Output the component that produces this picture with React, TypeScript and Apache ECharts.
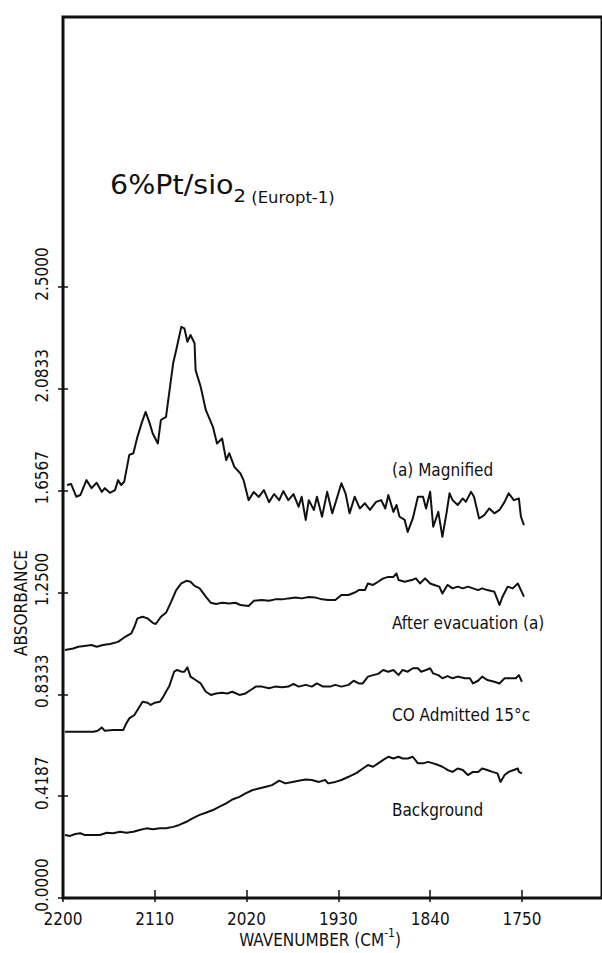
import React, { useEffect, useRef } from 'react';
import * as echarts from 'echarts';

const X_TICKS = [2200, 2110, 2020, 1930, 1840, 1750];
const Y_TICKS = [0, 2.5 / 6, 5 / 6, 1.25, 10 / 6, 12.5 / 6, 2.5];
const Y_TICK_LABELS = ['0.0000', '0.4187', '0.8333', '1.2500', '1.6567', '2.0833', '2.5000'];

const TITLE_MAIN = '6%Pt/sio';
const TITLE_SUB = '2';
const TITLE_TAIL = '(Europt-1)';
const X_NAME = 'WAVENUMBER (CM';
const Y_NAME = 'ABSORBANCE';

const SERIES_NAMES = ['(a) Magnified', 'After evacuation (a)', 'CO Admitted 15°c', 'Background'];

const MAGNIFIED: [number, number][] = [
  [2196, 1.69], [2192, 1.694], [2187, 1.642], [2183, 1.649], [2177, 1.71], [2172, 1.677],
  [2167, 1.699], [2162, 1.662], [2159, 1.677], [2154, 1.658], [2149, 1.669], [2146, 1.71],
  [2143, 1.69], [2140, 1.703], [2135, 1.813], [2131, 1.82], [2127, 1.887], [2123, 1.942],
  [2119, 1.989], [2115, 1.942], [2112, 1.901], [2107, 1.86], [2104, 1.956], [2099, 1.969],
  [2092, 2.188], [2089, 2.242], [2084, 2.337], [2081, 2.331], [2078, 2.276], [2075, 2.304],
  [2071, 2.27], [2070, 2.16], [2065, 2.092], [2060, 1.997], [2053, 1.928], [2049, 1.86],
  [2044, 1.88], [2040, 1.792], [2037, 1.82], [2032, 1.764], [2026, 1.737], [2023, 1.71],
  [2018, 1.628], [2013, 1.661], [2008, 1.641], [2003, 1.669], [1998, 1.62], [1993, 1.653],
  [1988, 1.628], [1984, 1.665], [1979, 1.628], [1974, 1.653], [1969, 1.601], [1966, 1.642],
  [1962, 1.547], [1959, 1.628], [1954, 1.588], [1951, 1.642], [1946, 1.56], [1941, 1.662],
  [1936, 1.574], [1932, 1.628], [1927, 1.697], [1923, 1.656], [1919, 1.574], [1914, 1.642],
  [1909, 1.594], [1904, 1.615], [1899, 1.588], [1893, 1.621], [1888, 1.628], [1884, 1.594],
  [1881, 1.649], [1876, 1.58], [1873, 1.608], [1870, 1.56], [1865, 1.547], [1862, 1.498],
  [1857, 1.553], [1852, 1.642], [1847, 1.642], [1844, 1.594], [1840, 1.662], [1837, 1.519],
  [1832, 1.58], [1828, 1.478], [1824, 1.574], [1821, 1.656], [1818, 1.628], [1813, 1.608],
  [1808, 1.635], [1805, 1.621], [1800, 1.662], [1797, 1.642], [1792, 1.553], [1787, 1.567],
  [1782, 1.594], [1777, 1.574], [1772, 1.588], [1767, 1.621], [1763, 1.656], [1758, 1.628],
  [1753, 1.635], [1751, 1.56], [1748, 1.526],
];

const AFTER_EVACUATION: [number, number][] = [
  [2198, 1.015], [2190, 1.021], [2185, 1.028], [2179, 1.031], [2172, 1.035], [2167, 1.028],
  [2161, 1.035], [2154, 1.039], [2146, 1.048], [2140, 1.066], [2133, 1.083], [2130, 1.11],
  [2127, 1.144], [2122, 1.151], [2117, 1.144], [2112, 1.126], [2109, 1.121], [2104, 1.151],
  [2099, 1.167], [2094, 1.212], [2089, 1.26], [2084, 1.287], [2079, 1.298], [2075, 1.294],
  [2071, 1.277], [2066, 1.267], [2060, 1.233], [2055, 1.208], [2050, 1.203], [2044, 1.208],
  [2037, 1.205], [2031, 1.208], [2026, 1.199], [2018, 1.195], [2013, 1.216], [2005, 1.219],
  [1998, 1.216], [1992, 1.222], [1985, 1.222], [1979, 1.226], [1972, 1.23], [1966, 1.226],
  [1959, 1.232], [1953, 1.23], [1946, 1.222], [1940, 1.219], [1933, 1.219], [1927, 1.24],
  [1920, 1.24], [1914, 1.25], [1910, 1.26], [1904, 1.26], [1901, 1.287], [1896, 1.281],
  [1891, 1.294], [1886, 1.308], [1881, 1.314], [1876, 1.314], [1873, 1.328], [1871, 1.301],
  [1865, 1.294], [1858, 1.301], [1854, 1.308], [1850, 1.287], [1845, 1.308], [1840, 1.287],
  [1836, 1.281], [1831, 1.274], [1828, 1.246], [1823, 1.281], [1818, 1.267], [1813, 1.274],
  [1808, 1.267], [1803, 1.274], [1798, 1.267], [1793, 1.26], [1789, 1.267], [1784, 1.26],
  [1777, 1.253], [1772, 1.199], [1769, 1.233], [1764, 1.274], [1759, 1.267], [1754, 1.287],
  [1751, 1.26], [1748, 1.233],
];

const CO_ADMITTED: [number, number][] = [
  [2198, 0.68], [2190, 0.68], [2180, 0.68], [2170, 0.68], [2166, 0.684], [2162, 0.698],
  [2159, 0.684], [2151, 0.687], [2141, 0.687], [2138, 0.714], [2135, 0.735], [2130, 0.749],
  [2125, 0.783], [2122, 0.803], [2117, 0.799], [2114, 0.79], [2110, 0.799], [2105, 0.803],
  [2102, 0.821], [2099, 0.844], [2096, 0.865], [2091, 0.926], [2088, 0.933], [2084, 0.926],
  [2081, 0.926], [2078, 0.944], [2075, 0.906], [2070, 0.892], [2065, 0.878], [2060, 0.844],
  [2055, 0.831], [2050, 0.837], [2044, 0.84], [2039, 0.837], [2034, 0.844], [2027, 0.831],
  [2021, 0.837], [2016, 0.851], [2011, 0.865], [2005, 0.865], [1998, 0.858], [1992, 0.865],
  [1985, 0.862], [1979, 0.865], [1974, 0.876], [1969, 0.865], [1962, 0.872], [1956, 0.865],
  [1951, 0.878], [1945, 0.865], [1938, 0.865], [1933, 0.872], [1927, 0.865], [1920, 0.872],
  [1915, 0.889], [1910, 0.878], [1906, 0.878], [1901, 0.906], [1896, 0.912], [1891, 0.917],
  [1886, 0.933], [1881, 0.926], [1876, 0.933], [1871, 0.912], [1867, 0.933], [1862, 0.926],
  [1857, 0.94], [1852, 0.94], [1849, 0.926], [1844, 0.933], [1840, 0.94], [1837, 0.919],
  [1832, 0.912], [1828, 0.899], [1823, 0.908], [1818, 0.899], [1813, 0.906], [1806, 0.899],
  [1801, 0.899], [1798, 0.878], [1793, 0.889], [1789, 0.906], [1784, 0.892], [1777, 0.885],
  [1772, 0.878], [1767, 0.899], [1761, 0.899], [1756, 0.899], [1753, 0.912], [1750, 0.885],
];

const BACKGROUND: [number, number][] = [
  [2198, 0.258], [2193, 0.254], [2188, 0.262], [2183, 0.265], [2179, 0.258], [2170, 0.258],
  [2164, 0.258], [2157, 0.267], [2151, 0.265], [2144, 0.271], [2138, 0.267], [2131, 0.271],
  [2125, 0.278], [2118, 0.285], [2112, 0.281], [2105, 0.285], [2099, 0.285], [2092, 0.291],
  [2086, 0.299], [2079, 0.312], [2073, 0.326], [2066, 0.34], [2060, 0.349], [2053, 0.36],
  [2047, 0.373], [2040, 0.387], [2034, 0.403], [2027, 0.414], [2021, 0.428], [2014, 0.442],
  [2008, 0.448], [2001, 0.455], [1995, 0.462], [1988, 0.48], [1982, 0.469], [1975, 0.475],
  [1969, 0.48], [1962, 0.485], [1956, 0.483], [1949, 0.475], [1943, 0.483], [1940, 0.469],
  [1933, 0.475], [1927, 0.483], [1920, 0.496], [1912, 0.512], [1906, 0.53], [1901, 0.544],
  [1896, 0.537], [1891, 0.551], [1886, 0.565], [1881, 0.578], [1876, 0.571], [1871, 0.578],
  [1867, 0.571], [1862, 0.571], [1857, 0.578], [1852, 0.551], [1847, 0.551], [1842, 0.557],
  [1837, 0.551], [1832, 0.544], [1828, 0.537], [1823, 0.524], [1818, 0.516], [1813, 0.53],
  [1808, 0.524], [1803, 0.503], [1798, 0.516], [1793, 0.516], [1789, 0.53], [1784, 0.524],
  [1779, 0.516], [1774, 0.51], [1771, 0.475], [1767, 0.503], [1763, 0.516], [1758, 0.524],
  [1754, 0.53], [1753, 0.516], [1750, 0.51],
];

const SERIES_DATA = [MAGNIFIED, AFTER_EVACUATION, CO_ADMITTED, BACKGROUND];

const FONT = '"DejaVu Sans Condensed", "Liberation Sans Narrow", "Open Sans", sans-serif';
const INK = '#111';
const Y_MAX = 3.605;
const PLOT_HEIGHT_PX = 881;
const LABEL_SHIFT_PX = 13;

export default function App() {
  const ref = useRef<HTMLDivElement>(null);
  useEffect(() => {
    if (!ref.current) return;
    const chart = echarts.init(ref.current, null, { renderer: 'svg' });
    const shift = (LABEL_SHIFT_PX / PLOT_HEIGHT_PX) * Y_MAX;
    const yLabelValues = Y_TICKS.map((t) => t + shift);
    const yLabel = (v: number) => {
      let best = 0;
      yLabelValues.forEach((t, i) => {
        if (Math.abs(t - v) < Math.abs(yLabelValues[best] - v)) best = i;
      });
      return Y_TICK_LABELS[best];
    };
    const labelYs = [470, 623, 715, 810];
    const option: any = {
      animation: false,
      backgroundColor: '#fff',
      grid: {
        left: 63, right: -3, top: 17, bottom: 55,
        show: true, borderColor: INK, borderWidth: 3, containLabel: false,
      },
      xAxis: [
        {
          type: 'value', inverse: true, min: 1671.5, max: 2200,
          axisLine: { show: false },
          splitLine: { show: false },
          axisTick: { show: true, inside: false, length: 4, lineStyle: { color: INK, width: 1.5 }, customValues: X_TICKS },
          axisLabel: {
            show: true, customValues: X_TICKS, margin: 12, color: INK, fontFamily: FONT, fontSize: 17,
            formatter: (v: number) => String(v),
          },
        },
        {
          type: 'value', inverse: true, min: 1671.5, max: 2200, position: 'bottom',
          axisLine: { show: false }, splitLine: { show: false }, axisLabel: { show: false },
          axisTick: { show: true, inside: true, length: 8, lineStyle: { color: INK, width: 1.5 }, customValues: X_TICKS },
        },
      ],
      yAxis: [
        {
          type: 'value', min: 0, max: Y_MAX,
          axisLine: { show: false },
          splitLine: { show: false },
          axisTick: { show: true, inside: false, length: 5, lineStyle: { color: INK, width: 1.5 }, customValues: Y_TICKS },
          axisLabel: {
            show: true, customValues: yLabelValues, rotate: 90, margin: 13, color: INK,
            fontFamily: FONT, fontSize: 17, formatter: yLabel,
          },
        },
        {
          type: 'value', min: 0, max: Y_MAX, position: 'left',
          axisLine: { show: false }, splitLine: { show: false }, axisLabel: { show: false },
          axisTick: { show: true, inside: true, length: 5, lineStyle: { color: INK, width: 1.5 }, customValues: Y_TICKS },
        },
      ],
      series: SERIES_DATA.map((d, i) => ({
        name: SERIES_NAMES[i],
        type: 'line',
        xAxisIndex: 0,
        yAxisIndex: 0,
        data: d,
        showSymbol: false,
        symbol: 'none',
        lineStyle: { color: INK, width: 2, join: 'round' },
      })),
      graphic: [
        {
          type: 'text', x: 110, y: 185, scaleX: 1.22,
          style: {
            text: `{m|${TITLE_MAIN}}{s|${TITLE_SUB}}{e| ${TITLE_TAIL}}`,
            align: 'left', verticalAlign: 'middle', fill: INK,
            rich: {
              m: { fontSize: 26, fontFamily: FONT, fill: INK, lineHeight: 36, verticalAlign: 'middle' },
              s: { fontSize: 18, fontFamily: FONT, fill: INK, verticalAlign: 'bottom', lineHeight: 36 },
              e: { fontSize: 15, fontFamily: FONT, fill: INK, verticalAlign: 'bottom', lineHeight: 40 },
            },
          },
        },
        {
          type: 'text', x: 21, y: 603, rotation: Math.PI / 2,
          style: { text: Y_NAME, align: 'center', verticalAlign: 'middle', fontSize: 17, fontFamily: FONT, fill: INK },
        },
        {
          type: 'text', x: 320, y: 940,
          style: {
            text: `{a|${X_NAME}}{s|-1}{a|)}`,
            align: 'center', verticalAlign: 'middle', fill: INK,
            rich: {
              a: { fontSize: 17, fontFamily: FONT, fill: INK, lineHeight: 26, verticalAlign: 'middle' },
              s: { fontSize: 12, fontFamily: FONT, fill: INK, lineHeight: 26, verticalAlign: 'top' },
            },
          },
        },
        ...SERIES_NAMES.map((n, i) => ({
          type: 'text', x: 392, y: labelYs[i],
          style: { text: n, align: 'left', verticalAlign: 'middle', fontSize: 17, fontFamily: FONT, fill: INK },
        })),
      ],
    };
    chart.setOption(option);
    return () => chart.dispose();
  }, []);
  return (
    <div
      ref={ref}
      style={{ position: 'fixed', left: 0, top: 0, width: 602, height: 953, background: '#fff' }}
    />
  );
}
